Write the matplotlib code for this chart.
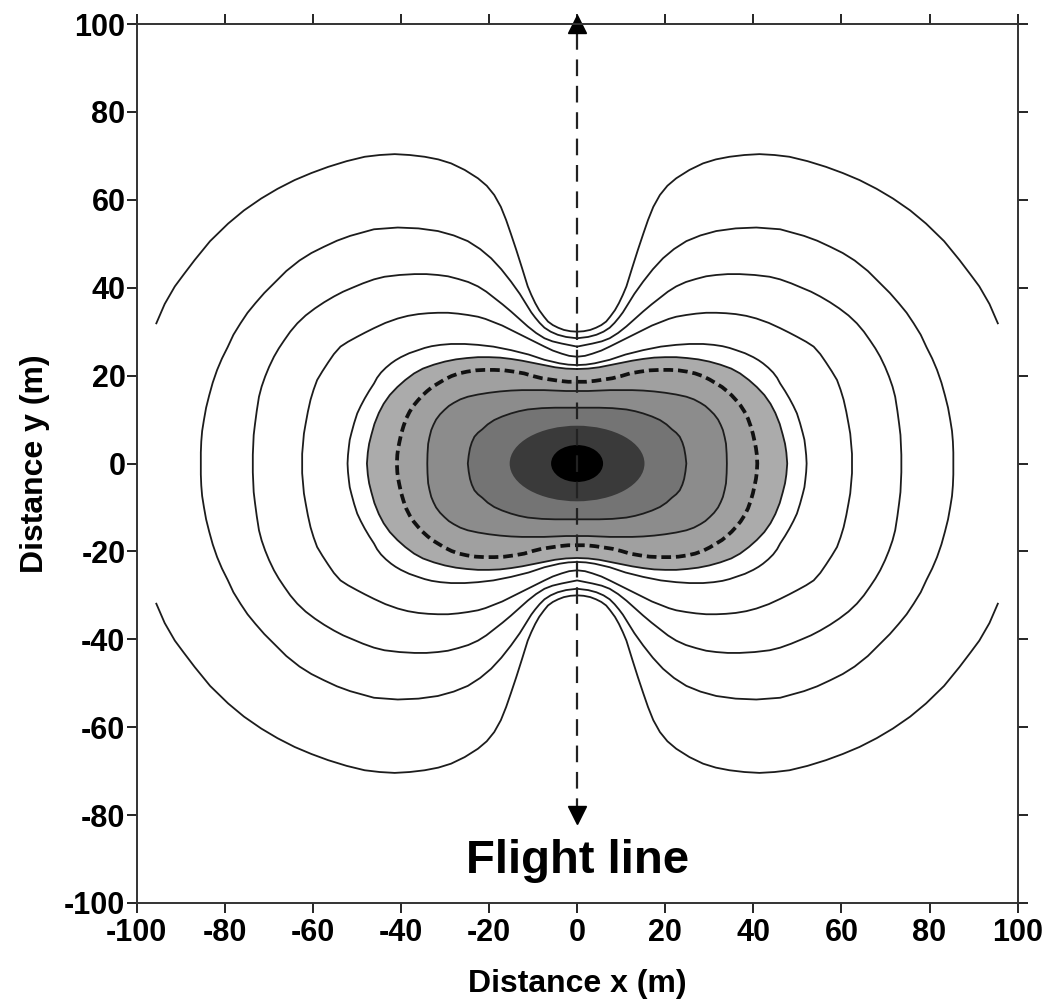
import numpy as np
import matplotlib.pyplot as plt
from matplotlib.patches import Ellipse

plt.rcParams['font.family'] = ['Liberation Sans', 'DejaVu Sans']
plt.rcParams['font.weight'] = 'bold'
plt.rcParams['axes.unicode_minus'] = False
plt.rcParams['lines.scale_dashes'] = False

# contour traces, first quadrant only
# (from the x = 0 crossing round to the y = 0 crossing); the field is symmetric
c1_x = [0, 1.5, 3, 4.3, 5.5, 6.6, 7.5, 8.6, 9.5, 10.4, 11.2, 12.5, 13.8, 15, 16.1, 17.3, 18.8,
        20.5, 22.5, 25.5, 28.6, 31.5, 34.6, 38, 41.4, 44.8, 48.2, 52.3, 56.5, 60.3, 64.1, 68,
        71.7, 75.6, 79.2, 83.3, 86.8, 89.3, 91.3, 93.6, 95.5]
c1_y = [30.0, 30.1, 30.4, 30.9, 31.5, 32.3, 33.4, 34.9, 36.5, 38.4, 40.3, 44.5, 48.6, 52.2, 55.4,
        58.4, 61.1, 63.2, 64.9, 66.8, 68.3, 69.2, 69.8, 70.2, 70.4, 70.2, 69.8, 68.8, 67.5, 66.1,
        64.5, 62.5, 60.3, 57.6, 54.6, 50.6, 46.3, 43, 40.3, 36.3, 31.9]

c2_x = [0, 2.5, 4.4, 6, 7.4, 8.5, 9.5, 10.4, 11.2, 13, 15, 17.2, 19.5, 22, 24.8, 28, 31.6, 36,
        40.7, 46.1, 51.5, 54.5, 57.5, 60.3, 63, 66, 68.8, 71, 73, 74.8, 76.4, 78, 79.3, 80.6,
        81.7, 82.7, 83.5, 84.2, 84.7, 85.1, 85.3, 85.4, 85.4]
c2_y = [28.5, 28.8, 29.3, 30, 30.9, 32, 33.2, 34.4, 35.7, 38.6, 41.4, 44.2, 46.7, 48.8, 50.6,
        51.9, 52.9, 53.5, 53.7, 53.3, 51.8, 50.7, 49.3, 47.9, 46.2, 43.8, 41, 38.8, 36.5, 34.3,
        31.9, 29.3, 26.5, 23.9, 21.3, 18.4, 15.5, 12.7, 9.9, 7.4, 5, 2.5, 0]

c3_x = [0, 3.5, 5.6, 7.4, 9.3, 11.2, 13.1, 15, 16.9, 18.8, 20.6, 22.5, 24.7, 27, 29.3, 31.6,
        34.2, 36.9, 40.3, 43.7, 46.1, 48.6, 51, 53.1, 55.2, 57.4, 59.5, 61.6, 63.5, 65.1, 66.5,
        67.7, 68.8, 69.9, 70.8, 71.6, 72.2, 72.7, 73.1, 73.4, 73.5, 73.6, 73.6]
c3_y = [26.6, 27.3, 27.8, 28.5, 29.7, 31.2, 32.9, 34.6, 36.2, 37.7, 39.1, 40.3, 41.3, 42, 42.6,
        42.9, 43.1, 43.1, 42.9, 42.5, 41.9, 41, 40, 39.1, 38, 36.7, 35.3, 33.7, 31.9, 30, 28,
        26.2, 24.3, 22, 19.8, 17.5, 15.2, 12, 9, 6.5, 4, 2, 0]

c4_x = [0, 1.8, 3.5, 5.5, 7.4, 9.2, 11, 13, 15, 17, 19, 20.8, 22.5, 24.8, 27, 29.3, 31.6, 33.8,
        36, 38.4, 40.7, 43.5, 46.1, 48.1, 50, 52, 53.7, 55.2, 56.5, 57.8, 59, 59.8, 60.5, 61.1,
        61.6, 62, 62.2, 62.4, 62.4]
c4_y = [24.3, 24.5, 25, 25.7, 26.6, 27.5, 28.4, 29.4, 30.4, 31.4, 32.2, 32.9, 33.4, 33.8, 34.1,
        34.3, 34.3, 34.2, 34, 33.6, 33, 32, 30.8, 29.8, 28.8, 27.7, 26.6, 24.9, 23, 21, 19, 16.8,
        14.5, 11.8, 9.1, 6.8, 4.5, 2.2, 0]

c5_x = [0, 2, 4, 5.7, 7.4, 9.2, 11, 13, 15, 17, 19, 20.8, 22.5, 25.5, 28.6, 31, 33, 34.6, 36.1,
        38.1, 40, 41.2, 42.2, 43.4, 44.5, 45.4, 46.1, 47.2, 48.2, 49.1, 49.9, 50.6, 51.2, 51.6,
        51.8, 52, 52.1]
c5_y = [22.4, 22.5, 22.8, 23.2, 23.6, 24.2, 24.8, 25.3, 25.8, 26.2, 26.6, 26.8, 27, 27.2, 27.2,
        27, 26.7, 26.3, 25.8, 25.1, 24.2, 23.5, 22.8, 21.8, 20.7, 19.5, 18.2, 16.5, 14.8, 13.1,
        11.4, 9.2, 7, 5.4, 3.8, 1.9, 0]

c6_x = [0, 2.5, 5, 7.5, 10, 12.5, 15, 17.5, 20, 22.5, 25, 27.5, 30, 32.5, 35, 37, 39, 40.8,
        42.5, 43.9, 45, 46, 46.7, 47.2, 47.5, 47.7]
c6_y = [21.5, 21.6, 21.9, 22.4, 22.9, 23.4, 23.8, 24.1, 24.2, 24.2, 24.0, 23.7, 23.2, 22.5, 21.6,
        20.5, 19.0, 17.4, 15.6, 13.6, 11.5, 9, 6.5, 4.5, 2.5, 0]

dash_x = [0, 2, 4, 6, 8, 10, 12, 14.3, 16.5, 18.8, 21, 23, 25, 26.8, 28.5, 30.1, 31.6, 32.9, 34,
          35.1, 36.1, 37.1, 38, 38.8, 39.4, 39.9, 40.3, 40.6, 40.8, 40.9]
dash_y = [18.6, 18.6, 18.8, 19.1, 19.4, 19.9, 20.5, 20.9, 21.2, 21.3, 21.3, 21.2, 20.9, 20.5,
          19.9, 19.1, 18.2, 17.4, 16.5, 15.5, 14.4, 13.2, 11.8, 10.2, 8.5, 6.8, 5, 3.5, 2, 0]

c8_x = [0, 2.5, 5, 7.5, 10, 12.5, 15, 17.5, 20, 22.5, 24.8, 26.5, 28, 29.1, 30.1, 31.1, 32, 32.6,
        33.1, 33.5, 33.8, 33.95, 34]
c8_y = [16.5, 16.5, 16.6, 16.7, 16.7, 16.7, 16.6, 16.4, 16.1, 15.7, 15.2, 14.6, 13.8, 13.1, 12.2,
        11.2, 10, 8.8, 7.6, 6, 4.5, 2.2, 0]

c9_x = [0, 2.5, 5, 8, 11.2, 13.2, 15, 17, 18.8, 20.3, 21.5, 22.5, 23.3, 23.9, 24.3, 24.6, 24.8]
c9_y = [12.7, 12.7, 12.7, 12.6, 12.3, 11.9, 11.4, 10.7, 9.9, 8.9, 7.8, 7, 6.1, 4.8, 3.5, 1.8, 0]

# half axes of the two innermost shaded ellipses
dark_half = (15.3, 8.6)
core_half = (5.9, 4.2)

flight_y = [-80, 100]
ticks = list(range(-100, 101, 20))


def full_loop(qx, qy):
    qx = np.asarray(qx, float)
    qy = np.asarray(qy, float)
    xs = np.concatenate([qx, qx[::-1], -qx, -qx[::-1]])
    ys = np.concatenate([qy, -qy[::-1], -qy, qy[::-1]])
    return xs, ys


fig = plt.figure(figsize=(10.46, 10.06), dpi=100)
ax = fig.add_axes([0.1305, 0.1024, 0.8424, 0.8737])

line_kw = dict(color='#1c1c1c', lw=1.3, solid_joinstyle='round')

# shaded core region
for (qx, qy), col in [((c6_x, c6_y), '#ababab'), ((dash_x, dash_y), '#a0a0a0'),
                      ((c8_x, c8_y), '#8c8c8c'), ((c9_x, c9_y), '#747474')]:
    xs, ys = full_loop(qx, qy)
    ax.fill(xs, ys, color=col, lw=0)
ax.add_patch(Ellipse((0, 0), 2 * dark_half[0], 2 * dark_half[1], color='#3a3a3a', lw=0))
ax.add_patch(Ellipse((0, 0), 2 * core_half[0], 2 * core_half[1], color='black', lw=0))

# open outer contour (upper and lower branches)
x1 = np.concatenate([-np.array(c1_x)[::-1], c1_x])
y1 = np.concatenate([np.array(c1_y)[::-1], c1_y])
ax.plot(x1, y1, **line_kw)
ax.plot(x1, -y1, **line_kw)

for qx, qy in [(c2_x, c2_y), (c3_x, c3_y), (c4_x, c4_y), (c5_x, c5_y),
               (c6_x, c6_y), (c8_x, c8_y), (c9_x, c9_y)]:
    xs, ys = full_loop(qx, qy)
    ax.plot(xs, ys, **line_kw)

xs, ys = full_loop(dash_x, dash_y)
ax.plot(xs, ys, color='#111111', lw=2.7, dashes=(7, 3.5))

# flight line
ax.plot([0, 0], flight_y, color='#222222', lw=1.6, dashes=(12, 7))
ax.plot(0, flight_y[1], marker='^', ms=13, color='black', clip_on=False)
ax.plot(0, flight_y[0], marker='v', ms=13, color='black', clip_on=False)
ax.text(0, -93.2, 'Flight line', ha='center', va='baseline', fontsize=34, fontweight='bold')

ax.set_xlim(-100, 100)
ax.set_ylim(-100, 100)
ax.set_xticks(ticks)
ax.set_yticks(ticks)
ax.tick_params(direction='out', length=7, width=1.2, labelsize=22, top=True, right=True,
               labeltop=False, labelright=False)
ax.tick_params(axis='y', pad=1)
ax.tick_params(axis='x', pad=4)
for s in ax.spines.values():
    s.set_linewidth(1.4)
    s.set_color('#333333')

ax.set_xlabel('Distance x (m)', fontsize=23, fontweight='bold', labelpad=15)
ax.set_ylabel('Distance y (m)', fontsize=23, fontweight='bold', labelpad=10)

fig.savefig('out.png', dpi=100)
